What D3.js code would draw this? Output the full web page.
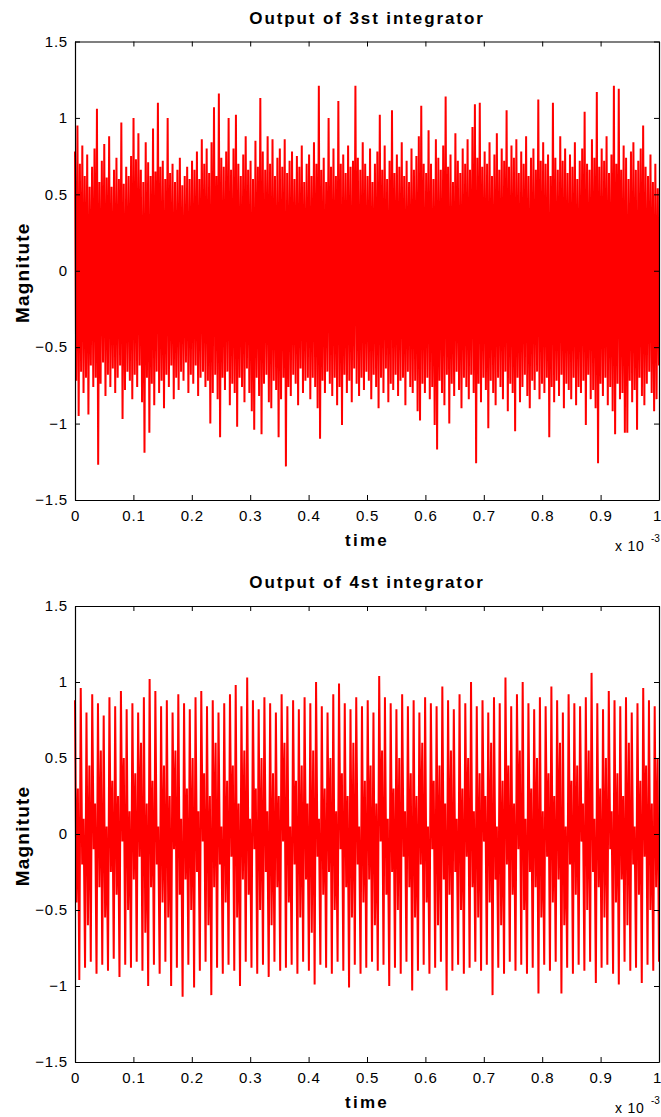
<!DOCTYPE html>
<meta charset="utf-8">

<!-- Load d3.js -->
<script src="https://d3js.org/d3.v7.min.js"></script>

<style>
  body { margin: 0; background: #fff; }
  text { font-family: Arial, "Liberation Sans", sans-serif; fill: #000; }
</style>

<!-- Create a div where the graph will take place -->
<div id="my_dataviz"></div>

<script>

// Output of 3rd integrator: upward spike then downward spike
var upper3 = [
  0.78,0.95,0.70,0.82,0.62,0.76,0.55,0.68,0.80,1.06,0.58,0.72,0.83,0.61,0.88,0.55,0.66,0.74,0.60,0.97,0.57,0.68,0.62,0.75,
  1.00,0.73,0.90,0.66,0.58,0.84,0.71,0.62,0.93,0.65,1.10,0.68,0.72,0.60,1.00,0.64,0.70,0.58,0.66,0.74,0.56,0.62,0.68,0.60,
  0.72,0.66,0.78,0.60,0.86,0.70,0.80,0.64,0.84,1.07,0.62,1.16,0.74,0.68,0.78,1.00,0.66,0.80,1.02,0.70,0.62,0.76,0.88,0.66,
  0.72,0.60,0.85,0.68,1.13,0.78,0.66,0.88,0.70,0.86,0.62,0.74,0.80,0.68,0.86,0.64,0.72,0.78,0.60,0.75,0.68,0.82,0.58,0.70,
  0.76,0.62,0.84,0.70,1.21,0.66,0.74,0.58,1.00,0.68,0.80,0.62,1.11,0.70,0.76,0.64,0.82,0.68,0.72,1.21,0.74,0.66,0.84,0.70,
  0.62,0.80,0.58,0.70,0.78,1.02,0.66,0.82,0.60,0.72,1.05,0.64,0.76,0.68,0.84,0.62,0.72,0.58,0.80,0.66,0.75,0.88,1.08,0.70,
  0.64,0.92,0.70,0.60,0.86,0.74,0.66,0.82,1.14,0.68,0.76,0.58,0.90,0.72,0.64,0.80,0.70,0.86,0.66,0.94,1.09,0.74,1.10,0.68,
  0.78,0.70,0.84,0.62,0.76,0.90,0.66,0.80,0.72,1.05,0.68,0.82,0.74,0.86,0.64,0.78,0.70,0.88,0.62,0.74,0.80,0.66,1.12,0.72,
  0.84,0.70,0.76,0.62,1.10,0.74,0.66,0.88,0.72,0.80,0.64,0.76,0.68,0.84,0.60,0.72,0.80,1.04,0.70,0.66,0.86,0.74,1.17,0.68,
  0.80,0.72,0.88,0.64,0.76,1.21,0.70,1.19,0.66,0.82,0.74,0.60,0.78,0.84,0.66,0.72,0.80,0.95,0.68,0.62,0.76,0.58,0.70,0.54
];
var lower3 = [
  -0.72,-0.95,-0.66,-0.80,-0.70,-0.94,-0.62,-0.76,-0.70,-1.27,-0.74,-0.60,-0.82,-0.68,-0.76,-0.64,-0.80,-0.70,-0.62,-0.97,-0.78,-0.66,-0.72,-0.84,
  -0.68,-0.76,-0.62,-0.86,-1.19,-0.70,-1.06,-0.74,-0.88,-0.66,-0.80,-0.72,-0.90,-0.68,-0.76,-0.62,-0.84,-0.70,-0.78,-0.66,-0.72,-0.60,-0.80,-0.68,
  -0.74,-0.62,-0.82,-0.70,-0.66,-0.76,-0.72,-1.00,-0.80,-0.68,-0.84,-1.09,-0.70,-0.78,-0.66,-0.88,-0.74,-0.80,-1.02,-0.70,-0.76,-0.86,-0.64,-0.80,
  -0.92,-1.04,-0.70,-0.82,-1.07,-0.74,-0.68,-0.86,-0.90,-0.72,-0.78,-1.09,-0.84,-0.70,-1.28,-0.76,-0.82,-0.68,-0.74,-0.88,-0.64,-0.80,-0.72,-0.70,
  -0.84,-0.70,-0.76,-0.90,-1.10,-0.72,-0.80,-0.66,-0.74,-0.82,-0.70,-0.88,-0.76,-1.01,-0.68,-0.80,-0.72,-0.86,-0.64,-0.74,-0.82,-0.70,-0.78,-0.66,
  -0.72,-0.84,-0.68,-0.76,-0.90,-0.70,-0.80,-0.64,-0.86,-0.74,-0.78,-0.68,-0.82,-0.72,-0.70,-0.88,-0.66,-0.76,-0.80,-0.72,-0.92,-0.98,-0.74,-0.80,
  -0.70,-0.84,-0.76,-1.01,-1.17,-0.72,-0.80,-0.88,-0.68,-1.00,-0.74,-0.82,-0.66,-0.78,-0.90,-0.70,-0.76,-0.84,-0.68,-0.80,-1.26,-0.74,-0.86,-0.70,
  -0.78,-1.03,-0.72,-0.80,-0.88,-0.70,-0.76,-0.84,-0.66,-0.92,-0.74,-0.80,-1.05,-0.70,-0.86,-0.76,-0.68,-0.82,-0.90,-0.72,-0.78,-0.66,-0.84,-0.74,
  -0.80,-0.70,-1.09,-0.76,-0.86,-0.72,-0.82,-0.68,-0.90,-0.74,-0.78,-0.84,-0.70,-0.88,-0.76,-0.80,-0.72,-1.01,-0.68,-0.84,-0.78,-0.90,-1.26,-0.74,
  -0.82,-0.70,-0.88,-0.76,-0.92,-1.07,-0.74,-0.84,-0.80,-1.06,-1.06,-0.72,-0.86,-0.78,-1.04,-0.70,-0.82,-0.88,-0.74,-0.66,-0.80,-0.92,-0.84,-0.62
];

// Output of 4th integrator: one entry per cycle (peak, dip, bump, trough)
var peaks4 = [
  0.88,0.96,0.80,0.92,0.86,0.78,0.90,0.84,0.94,0.82,
  0.86,0.80,0.90,1.02,0.94,0.84,0.88,0.80,0.92,0.86,
  0.82,0.90,0.94,0.84,0.88,0.80,0.86,0.92,0.98,0.84,
  1.03,0.88,0.82,0.90,0.86,0.80,0.92,0.84,0.88,0.82,
  0.90,0.86,1.00,0.84,0.80,0.92,0.99,0.86,0.82,0.90,
  0.84,0.88,0.80,1.04,0.90,0.86,0.82,0.92,0.84,0.88,
  0.80,0.90,0.86,0.84,0.97,0.88,0.82,0.92,0.86,1.00,
  0.84,0.88,0.80,0.90,0.86,1.03,0.84,0.92,1.00,0.86,
  0.82,0.90,0.84,0.97,0.88,0.80,0.92,0.86,0.84,0.90,
  1.06,0.86,0.82,0.94,0.88,0.84,0.90,0.80,0.86,0.96,
  0.88,0.84
];
var dips4 = [
  -0.45,-0.20,-0.60,-0.10,-0.35,-0.55,-0.25,-0.40,-0.05,-0.50,
  -0.30,-0.15,-0.65,-0.35,-0.20,-0.45,-0.55,-0.10,-0.40,-0.30,
  -0.50,-0.25,-0.05,-0.60,-0.35,-0.20,-0.45,-0.15,-0.55,-0.30,
  -0.40,-0.10,-0.50,-0.25,-0.60,-0.35,-0.05,-0.45,-0.20,-0.55,
  -0.30,-0.65,-0.15,-0.40,-0.25,-0.50,-0.10,-0.35,-0.55,-0.20,
  -0.45,-0.30,-0.60,-0.05,-0.40,-0.25,-0.50,-0.15,-0.35,-0.55,
  -0.20,-0.45,-0.10,-0.60,-0.30,-0.40,-0.25,-0.50,-0.15,-0.35,
  -0.55,-0.05,-0.45,-0.30,-0.60,-0.20,-0.40,-0.10,-0.50,-0.25,
  -0.35,-0.55,-0.15,-0.45,-0.30,-0.60,-0.20,-0.40,-0.05,-0.50,
  -0.25,-0.35,-0.55,-0.10,-0.45,-0.30,-0.60,-0.20,-0.40,-0.15,
  -0.50,-0.35
];
var bumps4 = [
  0.30,0.10,0.45,0.20,0.55,0.05,0.35,0.25,0.50,0.15,
  0.40,0.60,0.20,0.35,0.05,0.45,0.25,0.55,0.10,0.30,
  0.50,0.15,0.40,0.25,0.60,0.05,0.35,0.45,0.20,0.55,
  0.10,0.30,0.50,0.15,0.40,0.25,0.60,0.05,0.35,0.45,
  0.20,0.55,0.10,0.30,0.50,0.15,0.40,0.25,0.60,0.05,
  0.35,0.45,0.20,0.55,0.10,0.30,0.50,0.15,0.40,0.25,
  0.60,0.05,0.35,0.45,0.20,0.55,0.10,0.30,0.50,0.15,
  0.40,0.25,0.60,0.05,0.35,0.45,0.20,0.55,0.10,0.30,
  0.50,0.15,0.40,0.25,0.60,0.05,0.35,0.45,0.20,0.55,
  0.10,0.30,0.50,0.15,0.40,0.25,0.60,0.05,0.35,0.45,
  0.20,0.50
];
var troughs4 = [
  -0.96,-0.88,-0.84,-0.92,-0.86,-0.90,-0.82,-0.94,-0.86,-0.88,
  -0.84,-0.90,-1.00,-0.86,-0.92,-0.84,-1.00,-0.88,-1.07,-0.86,
  -1.01,-0.90,-0.84,-1.06,-0.88,-0.92,-0.86,-0.90,-1.00,-0.84,
  -0.88,-0.92,-0.86,-0.94,-0.84,-0.90,-0.88,-0.86,-0.92,-0.84,
  -0.90,-0.99,-0.86,-0.88,-0.92,-0.84,-0.90,-1.01,-0.86,-0.92,
  -0.88,-0.84,-0.90,-0.86,-1.00,-0.88,-0.92,-0.84,-1.03,-0.90,
  -0.86,-0.92,-0.88,-0.84,-1.03,-0.90,-0.86,-0.92,-0.88,-0.84,
  -0.90,-0.86,-1.06,-0.88,-0.92,-0.84,-0.90,-0.86,-0.92,-0.88,
  -1.05,-0.86,-0.90,-0.84,-1.05,-0.88,-0.92,-0.86,-0.90,-0.84,
  -0.98,-0.88,-0.86,-0.92,-0.99,-0.84,-0.90,-0.88,-0.98,-0.86,
  -0.90,-0.84
];

// axis ticks (time in units of 1e-3)
var xTicks = [0, 0.1, 0.2, 0.3, 0.4, 0.5, 0.6, 0.7, 0.8, 0.9, 1];
var yTicks = [-1.5, -1, -0.5, 0, 0.5, 1, 1.5];
var titles = ["Output of 3st integrator", "Output of 4st integrator"];

var svg = d3.select("#my_dataviz")
  .append("svg")
    .attr("width", 661)
    .attr("height", 1117);

// put the samples in plotting order
var sig3 = [];
upper3.forEach(function(u, i) { sig3.push(u, lower3[i]); });
var sig4 = [];
peaks4.forEach(function(p, k) { sig4.push(p, dips4[k], bumps4[k], troughs4[k]); });

function drawPanel(top, bottom, title, sig, lw) {
  var left = 75, right = 659;

  var x = d3.scaleLinear().domain([0, 1]).range([left, right]);
  var y = d3.scaleLinear().domain([-1.5, 1.5]).range([bottom, top]);

  var pts = sig.map(function(v, j) { return [j / (sig.length - 1), v]; });

  var line = d3.line()
    .x(function(d) { return x(d[0]); })
    .y(function(d) { return y(d[1]); });

  svg.append("path")
    .datum(pts)
    .attr("d", line)
    .attr("fill", "none")
    .attr("stroke", "#ff0000")
    .attr("stroke-width", lw)
    .attr("stroke-linejoin", "miter")
    .attr("stroke-miterlimit", 1);

  // box with inward ticks on all sides
  var gb = svg.append("g").attr("transform", "translate(0," + bottom + ")")
    .call(d3.axisBottom(x).tickValues(xTicks).tickSizeInner(-5).tickSizeOuter(0).tickPadding(10)
      .tickFormat(function(d) { return d3.format("~g")(d); }));
  var gt = svg.append("g").attr("transform", "translate(0," + top + ")")
    .call(d3.axisTop(x).tickValues(xTicks).tickSizeInner(-5).tickSizeOuter(0).tickFormat(""));
  var gl = svg.append("g").attr("transform", "translate(" + left + ",0)")
    .call(d3.axisLeft(y).tickValues(yTicks).tickSizeInner(-5).tickSizeOuter(0).tickPadding(7)
      .tickFormat(function(d) { return d3.format("~g")(d); }));
  var gr = svg.append("g").attr("transform", "translate(" + right + ",0)")
    .call(d3.axisRight(y).tickValues(yTicks).tickSizeInner(-5).tickSizeOuter(0).tickFormat(""));

  [gb, gt, gl, gr].forEach(function(g) {
    g.select(".domain").attr("stroke", "#000").attr("stroke-width", 1.2);
    g.selectAll(".tick line").attr("stroke", "#000");
    g.selectAll("text")
      .style("font-size", "15px")
      .style("letter-spacing", "0.8px")
      .style("font-family", "Arial, 'Liberation Sans', sans-serif")
      .attr("fill", "#000");
  });
  // the last x label sits on the window edge, keep it inside
  gb.selectAll(".tick text").filter(function(d) { return d === 1; }).attr("dx", "-2");

  svg.append("text")
    .attr("x", (left + right) / 2)
    .attr("y", top - 18)
    .attr("text-anchor", "middle")
    .style("font-size", "17px")
    .style("font-weight", "bold")
    .style("letter-spacing", "1.9px")
    .text(title);

  svg.append("text")
    .attr("x", 367)
    .attr("y", bottom + 46)
    .attr("text-anchor", "middle")
    .style("font-size", "17px")
    .style("font-weight", "bold")
    .style("letter-spacing", "2.2px")
    .text("time");

  svg.append("text")
    .attr("x", 615)
    .attr("y", bottom + 51)
    .style("font-size", "14px")
    .style("letter-spacing", "0.8px")
    .text("x 10");
  svg.append("text")
    .attr("x", 651)
    .attr("y", bottom + 42)
    .style("font-size", "10px")
    .text("-3");

  svg.append("text")
    .attr("transform", "translate(29," + ((top + bottom) / 2 + 2) + ") rotate(-90)")
    .attr("text-anchor", "middle")
    .style("font-size", "19px")
    .style("font-weight", "bold")
    .style("letter-spacing", "1.2px")
    .text("Magnitute");
}

drawPanel(41.5, 500, titles[0], sig3, 2.0);
drawPanel(606, 1062, titles[1], sig4, 2.0);

</script>
